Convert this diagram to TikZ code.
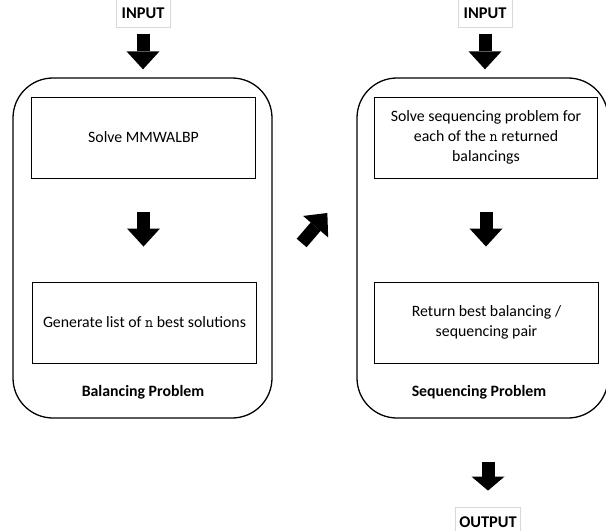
\documentclass[tikz,border=0pt]{standalone}
\usepackage{fontspec}
\setmainfont{Carlito}
\usetikzlibrary{arrows.meta}

\begin{document}
\begin{tikzpicture}[x=0.03cm,y=-0.03cm,font=\fontsize{13.5}{17}\selectfont,
    outer/.style={draw,line width=1.1pt,rounded corners=1.2cm,
      minimum width=#1,minimum height=10.2cm},
    task/.style={draw,line width=0.8pt,minimum width=6.7cm,
      minimum height=2.43cm,align=center},
    tag/.style={draw=black!15,font=\fontsize{14}{17}\selectfont\bfseries,
      minimum width=1.62cm,minimum height=0.87cm},
    blk/.style={line width=0.39cm,
      -{Triangle[width=0.99cm,length=#1,line width=0pt]}},
    blk/.default=0.54cm]
  \useasboundingbox (0,0) rectangle (606,531);

  % the two stages
  \node[outer=7.77cm] (bal) at (142.5,248) {};
  \node[outer=7.53cm] (seq) at (482.5,248) {};

  \node[task] (solve) at (143.5,137.5) {Solve MMWALBP};
  \node[task] (gen) at (144.5,322.5) {Generate list of \texttt{n} best solutions};
  \node[font=\fontsize{13.5}{17}\selectfont\bfseries] (baltxt) at (143,392) {Balancing Problem};

  \node[task] (each) at (486,137.5) {Solve sequencing problem for\\each of the \texttt{n} returned\\balancings};
  \node[task] (best) at (486.5,322.5) {Return best balancing /\\sequencing pair};
  \node[font=\fontsize{13.5}{17}\selectfont\bfseries] (seqtxt) at (479,392) {Sequencing Problem};

  % input and output
  \node[tag] (in1) at (143,13) {INPUT};
  \node[tag] (in2) at (485,13) {INPUT};
  \node[tag] (out) at (488,522) {OUTPUT};

  \coordinate (d0) at ([shift={(29,-5)}]bal.east);
  \coordinate (d1) at ([shift={(-29,-35)}]seq.west);

  \draw[blk,shorten <=0.18cm,shorten >=0.24cm] (in1) -- (in1 |- bal.north);
  \draw[blk,shorten <=0.18cm,shorten >=0.24cm] (in2) -- (in2 |- seq.north);
  \draw[blk,shorten <=1.02cm,shorten >=1.05cm] (solve) -- (solve |- gen.north);
  \draw[blk,shorten <=1.02cm,shorten >=1.05cm] (each) -- (each |- best.north);
  \draw[blk] (d0) -- (d1);
  \draw[blk=0.42cm,shorten <=1.3cm,shorten >=0.5cm] (out |- seq.south) -- (out);
\end{tikzpicture}
\end{document}
